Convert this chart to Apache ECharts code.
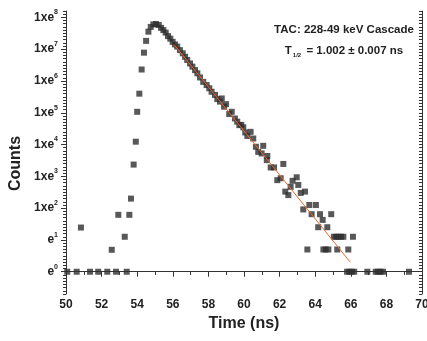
<!DOCTYPE html>
<html><head><meta charset="utf-8">
<script src="https://cdn.jsdelivr.net/npm/echarts@6/dist/echarts.min.js"></script>
<style>html,body{margin:0;padding:0;background:#fff}#c{width:427px;height:341px}</style>
</head><body><div id="c"></div>
<script>
// Time axis (ns) and natural-log counts (exponent of e)
const timeNs = [
  50.07, 50.60, 50.84, 51.35, 51.81, 52.32, 52.57, 52.81, 52.94, 53.30, 53.41, 53.56, 53.65, 53.80, 53.92,
  54.00, 54.12, 54.25, 54.38, 54.50, 54.63,
  54.76, 54.91, 55.06, 55.21, 55.34, 55.47, 55.60, 55.73, 55.86, 55.99, 56.12, 56.25, 56.40, 56.56, 56.69,
  56.81, 56.97, 57.10, 57.25, 57.38, 57.53, 57.71, 57.90, 58.05, 58.18, 58.37, 58.50, 58.65, 58.75, 58.88,
  58.99, 59.17, 59.31, 59.49, 59.62, 59.74, 59.85, 59.96, 60.07, 60.19, 60.37, 60.52, 60.67, 60.80, 60.99,
  61.08, 61.28, 61.31, 61.50, 61.69, 61.87, 62.06, 62.21, 62.32, 62.49, 62.62, 62.73, 62.96, 63.05, 63.19,
  63.33, 63.43, 63.56, 63.67, 63.80, 64.04, 64.17, 64.27, 64.42, 64.46, 64.59, 64.68, 64.74, 64.90, 65.05,
  65.18, 65.24, 65.32, 65.45, 65.58, 65.79, 65.86, 65.92, 66.06, 66.12, 66.19, 66.93, 67.40, 67.53, 67.67,
  67.81, 69.27
];
const lnCounts = [
  0, 0, 1.39, 0, 0, 0, 0.69, 0, 1.79, 1.10, 0, 1.79, 2.30, 3.37, 4.09,
  5.03, 5.60, 6.36, 6.89, 7.26, 7.55,
  7.70, 7.78, 7.79, 7.76, 7.67, 7.60, 7.52, 7.41, 7.33, 7.23, 7.15, 7.08, 6.97, 6.87, 6.76,
  6.66, 6.55, 6.45, 6.34, 6.24, 6.11, 5.97, 5.87, 5.77, 5.66, 5.56, 5.43, 5.35, 5.45, 5.19,
  5.27, 4.96, 5.03, 4.82, 4.72, 4.61, 4.62, 4.54, 4.38, 4.27, 4.40, 4.19, 3.93, 3.77, 3.72,
  3.96, 3.51, 3.64, 3.28, 3.28, 2.88, 2.94, 3.39, 2.52, 2.41, 2.67, 2.86, 2.97, 2.73, 2.48,
  1.96, 2.52, 0.70, 2.10, 1.81, 2.10, 1.40, 1.81, 1.63, 0.70, 0.70, 1.40, 0.70, 1.81, 1.10,
  1.10, 0.70, 1.10, 1.10, 1.10, 0, 0.70, 0, 0, 1.10, 0, 0, 0, 0, 0,
  0, 0
];
// Exponential fit line endpoints
const fitTime = [56.08, 65.97];
const fitLn = [7.14, 0.30];
// Y tick labels (exponents)
const yExponents = [0, 1, 2, 3, 4, 5, 6, 7, 8];

const FONT = 'Liberation Sans, Arial, sans-serif';
const yMin = -0.7, yMax = 8.2;
const minorY = [];
for (let i = -7; i <= 82; i++) { const v = i / 10; if (Math.abs(v - Math.round(v)) > 1e-6) minorY.push(v); }

const chart = echarts.init(document.getElementById('c'), null, {renderer: 'canvas'});
chart.setOption({
  animation: false,
  backgroundColor: '#fff',
  grid: {left: 66, right: 5, top: 11, bottom: 47, containLabel: false, outerBoundsMode: 'none'},
  xAxis: [{
    type: 'value', min: 50, max: 70, interval: 2, position: 'bottom',
    name: 'Time (ns)', nameLocation: 'middle', nameGap: 18,
    nameTextStyle: {fontFamily: FONT, fontWeight: 'bold', fontSize: 16, color: '#222'},
    axisLine: {show: true, lineStyle: {color: '#333', width: 1}},
    axisTick: {show: true, inside: false, length: 5, lineStyle: {color: '#333'}},
    minorTick: {show: true, splitNumber: 2, length: 3, lineStyle: {color: '#333'}},
    axisLabel: {margin: 5, fontFamily: FONT, fontWeight: 'bold', fontSize: 12, color: '#222', showMaxLabel: true, showMinLabel: true, hideOverlap: false},
    splitLine: {show: false}
  }, {
    type: 'value', min: 50, max: 70, interval: 1, position: 'top',
    axisLine: {show: true, lineStyle: {color: '#333', width: 1}},
    axisTick: {show: true, inside: true, length: 3, lineStyle: {color: '#333'}},
    axisLabel: {show: false}, splitLine: {show: false}
  }],
  yAxis: [{
    type: 'value', min: yMin, max: yMax, position: 'left',
    name: 'Counts', nameLocation: 'middle', nameGap: 42, nameRotate: 90,
    nameTextStyle: {fontFamily: FONT, fontWeight: 'bold', fontSize: 16, color: '#222', padding: [0, 22, 0, 0]},
    axisLine: {show: true, lineStyle: {color: '#333', width: 1}},
    axisTick: {show: true, inside: false, length: 5, customValues: yExponents, lineStyle: {color: '#333'}},
    axisLabel: {
      margin: 8, customValues: yExponents,
      formatter: v => (v >= 2 ? '{b|1xe}' : '{b|e}') + '{s|' + v + '}',
      rich: {
        b: {fontFamily: FONT, fontWeight: 'bold', fontSize: 12, color: '#222'},
        s: {fontFamily: FONT, fontWeight: 'bold', fontSize: 7, color: '#222', padding: [0, 0, 10, 0]}
      }
    },
    splitLine: {show: false}
  }, {
    type: 'value', min: yMin, max: yMax, position: 'left',
    axisLine: {show: false},
    axisTick: {show: true, inside: false, length: 3, customValues: minorY, lineStyle: {color: '#333'}},
    axisLabel: {show: false}, splitLine: {show: false}
  }, {
    type: 'value', min: yMin, max: yMax, position: 'right',
    axisLine: {show: true, lineStyle: {color: '#333', width: 1}},
    axisTick: {show: true, inside: true, length: 3, customValues: minorY.concat(yExponents), lineStyle: {color: '#333'}},
    axisLabel: {show: false}, splitLine: {show: false}
  }],
  graphic: [{
    type: 'text', x: 344, y: 30,
    style: {text: 'TAC: 228-49 keV Cascade', align: 'center', verticalAlign: 'middle',
      font: 'bold 11.5px ' + FONT, fill: '#222'}
  }, {
    type: 'text', x: 344, y: 51,
    style: {
      text: '{a|T}{s|1/2}{a| = 1.002 ± 0.007 ns}', align: 'center', verticalAlign: 'middle',
      rich: {
        a: {fontFamily: FONT, fontWeight: 'bold', fontSize: 11.5, fill: '#222', color: '#222'},
        s: {fontFamily: FONT, fontWeight: 'bold', fontSize: 6, fill: '#222', color: '#222', padding: [8, 2, 0, 1]}
      }
    }
  }],
  series: [{
    type: 'scatter', xAxisIndex: 0, yAxisIndex: 0,
    symbol: 'rect', symbolSize: 6,
    itemStyle: {color: '#2e2e2e'},
    data: timeNs.map((t, i) => [t, lnCounts[i]]),
    z: 2
  }, {
    type: 'line', xAxisIndex: 0, yAxisIndex: 0,
    showSymbol: false, symbol: 'none',
    lineStyle: {color: '#f0652a', width: 1},
    data: fitTime.map((t, i) => [t, fitLn[i]]),
    z: 3
  }]
});
</script></body></html>
